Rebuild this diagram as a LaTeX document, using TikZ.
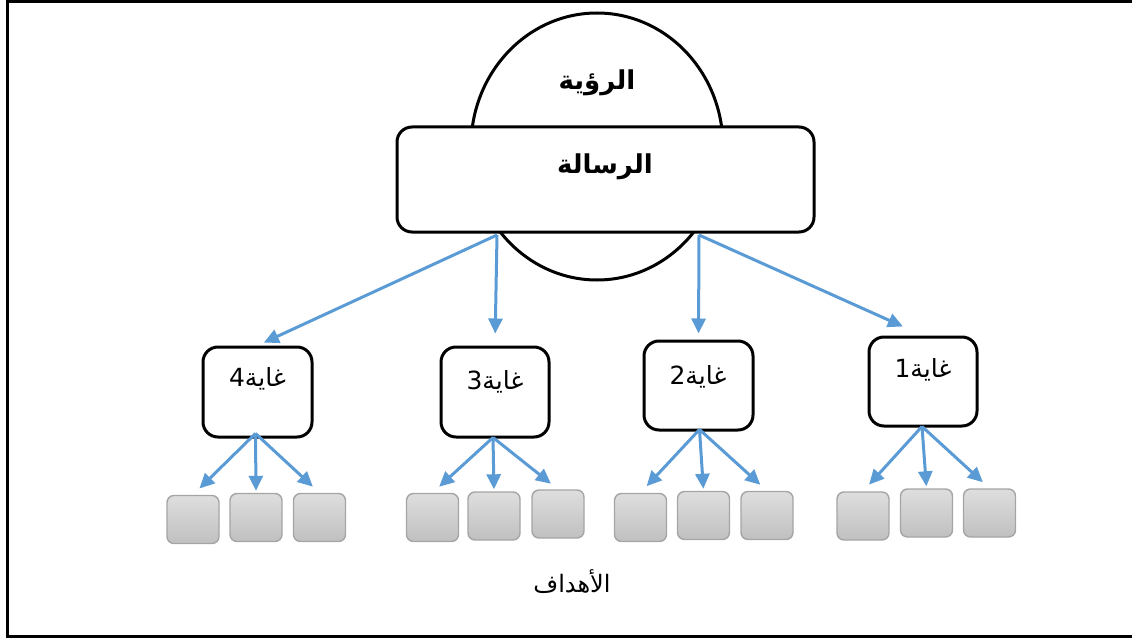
\documentclass[tikz,border=0pt]{standalone}
\usepackage{fontspec}
\newfontfamily\arabicfont[Script=Arabic]{DejaVu Sans}
\TeXXeTstate=1
\usetikzlibrary{arrows.meta,calc,shapes.geometric}
\definecolor{arrowblue}{HTML}{5B9BD5}
\definecolor{objtop}{HTML}{DEDEDE}
\definecolor{objbot}{HTML}{C0C0C0}
\definecolor{objline}{HTML}{A5A5A5}
\begin{document}
\begin{tikzpicture}[x=1pt,y=-1pt,
  frame/.style={line width=3pt},
  box/.style={draw, line width=3pt, rounded corners=15pt, fill=white, inner sep=0pt},
  obj/.style={draw=objline, line width=1.4pt, rounded corners=7pt, top color=objtop, bottom color=objbot, minimum width=52pt, minimum height=48pt, inner sep=0pt},
  conn/.style={draw=arrowblue, line width=3pt, -{Triangle[length=15pt,width=14pt]}},
  lbl/.style={font=\arabicfont\fontsize{25}{27}\selectfont, inner sep=0pt},
  goallbl/.style={font=\arabicfont\fontsize{24}{26}\selectfont, inner sep=0pt},
  bigl/.style={font=\arabicfont\bfseries\fontsize{26}{28}\selectfont, inner sep=0pt}
]
\useasboundingbox (0,0) rectangle (1132,639);
\draw[frame] (1145,1.5) -- (7.5,1.5) -- (7.5,636) -- (1145,636);

% vision ellipse and mission box
\node[draw, ellipse, line width=3pt, minimum width=252pt, minimum height=267pt, inner sep=0pt] (vision) at (597,146.5) {};
\node[box, minimum width=417pt, minimum height=105pt] (msg) at (605.5,179.5) {};
\node[bigl] (visiontxt) at (597,83) {\beginR الرؤية\endR};
\node[bigl] (msgtxt) at (605,167) {\beginR الرسالة\endR};

% goal boxes
\node[box, minimum width=109pt, minimum height=90pt] (g4) at (257.5,392) {};
\node[box, minimum width=108pt, minimum height=90pt] (g3) at (495,392) {};
\node[box, minimum width=109pt, minimum height=89pt] (g2) at (698.5,385.5) {};
\node[box, minimum width=108pt, minimum height=89pt] (g1) at (923,381.5) {};
\node[lbl] (t4) at (257.5,379) {\beginR غاية4\endR};
\node[lbl] (t3) at (495,382) {\beginR غاية3\endR};
\node[lbl] (t2) at (698,377) {\beginR غاية2\endR};
\node[lbl] (t1) at (923,370) {\beginR غاية1\endR};

% objective boxes
\node[obj] (o41) at (193,519.5) {};
\node[obj] (o42) at (256,517.5) {};
\node[obj] (o43) at (319.5,517.5) {};
\node[obj] (o31) at (432.5,517.5) {};
\node[obj] (o32) at (494,516) {};
\node[obj] (o33) at (558,514) {};
\node[obj] (o21) at (640.5,517.5) {};
\node[obj] (o22) at (703.5,515.5) {};
\node[obj] (o23) at (767,515.5) {};
\node[obj] (o11) at (863,516) {};
\node[obj] (o12) at (926.5,513) {};
\node[obj] (o13) at (989.5,513) {};

% connector start points
\coordinate (m1) at (497,235);
\coordinate (m2) at (699,235);
\coordinate (s4) at ($(g4.south)+(-2,-5)$);
\coordinate (s3) at ($(g3.south)+(-2,-1)$);
\coordinate (s2) at ($(g2.south)+(1,-2)$);
\coordinate (s1) at ($(g1.south)+(-1,-1)$);

% connectors from mission
\draw[conn, shorten >=7pt] (m1) -- (g4.north);
\draw[conn, shorten >=12pt] (m1) -- (g3.north);
\draw[conn, shorten >=6pt] (m2) -- (g2.north);
\draw[conn, shorten >=22pt] (m2) -- (g1.north);

% connectors from goals
\foreach \g in {4,3,2,1}{
  \draw[conn, shorten >=9pt] (s\g) -- (o\g1.north);
  \draw[conn, shorten >=2pt] (s\g) -- (o\g2.north);
  \draw[conn, shorten >=9pt] (s\g) -- (o\g3.north);
}

\node[goallbl] (goals) at (572,582) {\beginR الأهداف\endR};
\end{tikzpicture}
\end{document}
